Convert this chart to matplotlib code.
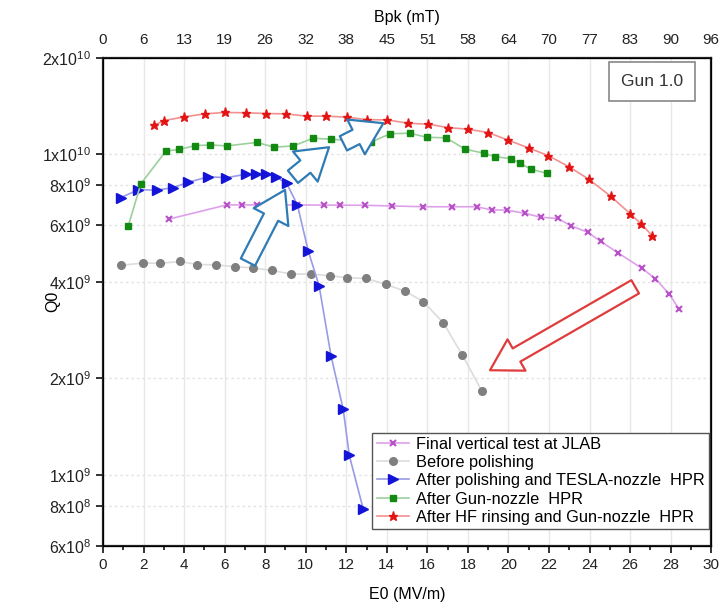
import matplotlib
matplotlib.use('Agg')
import matplotlib.pyplot as plt
from matplotlib.patches import FancyArrowPatch

plt.rcParams['font.family'] = ['Liberation Sans', 'DejaVu Sans']
plt.rcParams['mathtext.fontset'] = 'custom'
plt.rcParams['mathtext.rm'] = 'Liberation Sans'
plt.rcParams['mathtext.it'] = 'Liberation Sans'

# Final vertical test at JLAB
e_jlab = [3.27, 6.10, 6.87, 7.58, 9.59, 10.90, 11.69, 12.92, 14.24, 15.80, 17.20, 18.43,
          19.18, 19.92, 20.82, 21.61, 22.43, 23.09, 23.91, 24.55, 25.39, 26.58, 27.25, 27.94, 28.42]
q_jlab = [6.28e9, 6.95e9, 6.95e9, 6.95e9, 6.95e9, 6.94e9, 6.94e9, 6.93e9, 6.90e9, 6.86e9, 6.86e9, 6.86e9,
          6.70e9, 6.70e9, 6.54e9, 6.36e9, 6.31e9, 5.98e9, 5.71e9, 5.35e9, 4.93e9, 4.41e9, 4.09e9, 3.66e9, 3.28e9]

# Before polishing
e_before = [0.87, 1.96, 2.81, 3.80, 4.65, 5.56, 6.50, 7.41, 8.35, 9.29, 10.28, 11.20, 12.04,
            12.97, 13.95, 14.90, 15.80, 16.79, 17.73, 18.68]
q_before = [4.50e9, 4.58e9, 4.57e9, 4.63e9, 4.53e9, 4.52e9, 4.46e9, 4.42e9, 4.34e9, 4.23e9, 4.23e9,
            4.18e9, 4.12e9, 4.10e9, 3.93e9, 3.74e9, 3.47e9, 2.98e9, 2.36e9, 1.83e9]

# After polishing and TESLA-nozzle HPR
e_tesla = [0.87, 1.74, 2.65, 3.47, 4.21, 5.20, 6.07, 7.04, 7.53, 8.03, 8.53, 9.06, 9.59,
           10.13, 10.66, 11.25, 11.85, 12.15, 12.83]
q_tesla = [7.32e9, 7.75e9, 7.73e9, 7.87e9, 8.18e9, 8.51e9, 8.45e9, 8.66e9, 8.70e9, 8.70e9, 8.49e9,
           8.12e9, 6.95e9, 4.98e9, 3.89e9, 2.35e9, 1.60e9, 1.15e9, 7.85e8]

# After Gun-nozzle HPR
e_gun = [1.25, 1.87, 3.11, 3.75, 4.54, 5.28, 6.12, 7.60, 8.44, 9.39, 10.36, 11.27, 13.20, 14.18,
         15.15, 15.97, 16.92, 17.87, 18.81, 19.34, 20.13, 20.59, 21.11, 21.90]
q_gun = [5.98e9, 8.09e9, 1.024e10, 1.035e10, 1.064e10, 1.069e10, 1.062e10, 1.089e10, 1.052e10,
         1.062e10, 1.122e10, 1.114e10, 1.091e10, 1.159e10, 1.163e10, 1.130e10, 1.125e10, 1.037e10,
         1.007e10, 9.83e9, 9.69e9, 9.37e9, 8.98e9, 8.72e9]

# After HF rinsing and Gun-nozzle HPR
e_hf = [2.52, 3.02, 4.01, 5.03, 6.02, 7.07, 8.03, 9.01, 10.05, 11.00, 12.05, 13.02, 14.03, 15.03,
        16.05, 17.03, 18.02, 19.01, 20.00, 21.03, 21.97, 23.00, 23.96, 25.05, 26.01, 26.54, 27.10]
q_hf = [1.232e10, 1.274e10, 1.308e10, 1.337e10, 1.350e10, 1.347e10, 1.340e10, 1.337e10, 1.315e10,
        1.315e10, 1.305e10, 1.282e10, 1.280e10, 1.250e10, 1.241e10, 1.211e10, 1.197e10, 1.168e10,
        1.106e10, 1.044e10, 9.90e9, 9.13e9, 8.36e9, 7.39e9, 6.52e9, 6.07e9, 5.56e9]

x_ticks = list(range(0, 31, 2))
bpk_labels = ['0', '6', '13', '19', '26', '32', '38', '45', '51', '58', '64', '70', '77', '83', '90', '96']
y_ticks = [6e8, 8e8, 1e9, 2e9, 4e9, 6e9, 8e9, 1e10, 2e10]
y_labels = [r'6x10$^{8}$', r'8x10$^{8}$', r'1x10$^{9}$', r'2x10$^{9}$', r'4x10$^{9}$',
            r'6x10$^{9}$', r'8x10$^{9}$', r'1x10$^{10}$', r'2x10$^{10}$']

fig = plt.figure(figsize=(7.25, 6.08), dpi=100)
ax = fig.add_axes([0.142, 0.102, 0.839, 0.803])

ax.plot(e_jlab, q_jlab, color='#dda0ea', lw=1.2, marker='x', ms=4.5, mew=1.5, mec='#b850c8',
        label='Final vertical test at JLAB')
ax.plot(e_before, q_before, color='#dcdcdc', lw=1.2, marker='o', ms=5.5, mfc='#7f7f7f', mec='#7f7f7f',
        label='Before polishing')
ax.plot(e_tesla, q_tesla, color='#9a9ae8', lw=1.2, marker='>', ms=6.5, mfc='#1414d8', mec='#1414d8',
        label='After polishing and TESLA-nozzle  HPR')
ax.plot(e_gun, q_gun, color='#9ccf9c', lw=1.2, marker='s', ms=5, mfc='#128a12', mec='#128a12',
        label='After Gun-nozzle  HPR')
ax.plot(e_hf, q_hf, color='#f29090', lw=1.2, marker='*', ms=6.5, mfc='#e31414', mec='#e31414',
        label='After HF rinsing and Gun-nozzle  HPR')

ax.set_yscale('log')
ax.set_xlim(0, 30)
ax.set_ylim(6e8, 2e10)
ax.set_xticks(x_ticks)
ax.set_xticks(range(1, 30, 2), minor=True)
ax.set_yticks(y_ticks)
ax.set_yticklabels(y_labels)
ax.yaxis.set_minor_locator(matplotlib.ticker.NullLocator())
ax.tick_params(axis='both', labelsize=11, colors='#222222', width=1.3, length=5)
ax.tick_params(axis='y', labelsize=11.5)
ax.tick_params(axis='x', which='minor', width=1.1, length=3)
ax.set_xlabel('E0 (MV/m)', fontsize=11.5, labelpad=11)
ax.set_ylabel('Q0', fontsize=11.5)
ax.yaxis.set_label_coords(-0.07, 0.5)

ax.grid(True, axis='x', color='#e8e8e8', lw=1)
ax.grid(True, axis='y', color='#e4e4e4', lw=1, ls=(0, (2, 2)))
ax.set_axisbelow(True)
for s in ax.spines.values():
    s.set_linewidth(1.6)
    s.set_color('#222222')

top = ax.twiny()
top.set_xlim(ax.get_xlim())
top.set_xticks(x_ticks)
top.set_xticklabels(bpk_labels)
top.tick_params(axis='x', labelsize=11, colors='#222222', length=0, pad=8)
top.set_xlabel('Bpk (mT)', fontsize=11.5, labelpad=8)

# hollow arrows: tail, head, colour, tail width, head width, head length
arrows = [((7.15, 4.61e9), (8.98, 7.74e9), '#2e7bb5', 1.15, 2.8, 2.2),
          ((9.37, 8.51e9), (11.15, 1.052e10), '#2e7bb5', 1.15, 2.8, 2.2),
          ((11.86, 1.082e10), (13.83, 1.25e10), '#2e7bb5', 1.15, 2.8, 2.2),
          ((26.25, 3.86e9), (19.09, 2.12e9), '#e03c3c', 1.1, 2.6, 2.2)]
for tail, head, col, tw, hw, hl in arrows:
    arr = FancyArrowPatch(tail, head, arrowstyle=f'simple,head_length={hl},head_width={hw},tail_width={tw}',
                          mutation_scale=10, fc='white', ec=col, lw=1.6, shrinkA=0, shrinkB=0, zorder=5)
    ax.add_patch(arr)

ax.text(0.903, 0.951, 'Gun 1.0', transform=ax.transAxes, ha='center', va='center', fontsize=12.5,
        color='#333333', bbox=dict(boxstyle='square,pad=0.7', fc='white', ec='#888888', lw=1.2))

leg = ax.legend(loc='lower right', bbox_to_anchor=(1.0, 0.03), fontsize=11.8, frameon=True, fancybox=False,
                framealpha=1, edgecolor='#555555', handlelength=2.0, handletextpad=0.4, borderpad=0.25,
                labelspacing=0.2, borderaxespad=0.15)
leg.get_frame().set_linewidth(1.0)

fig.savefig('out.png', dpi=100)
